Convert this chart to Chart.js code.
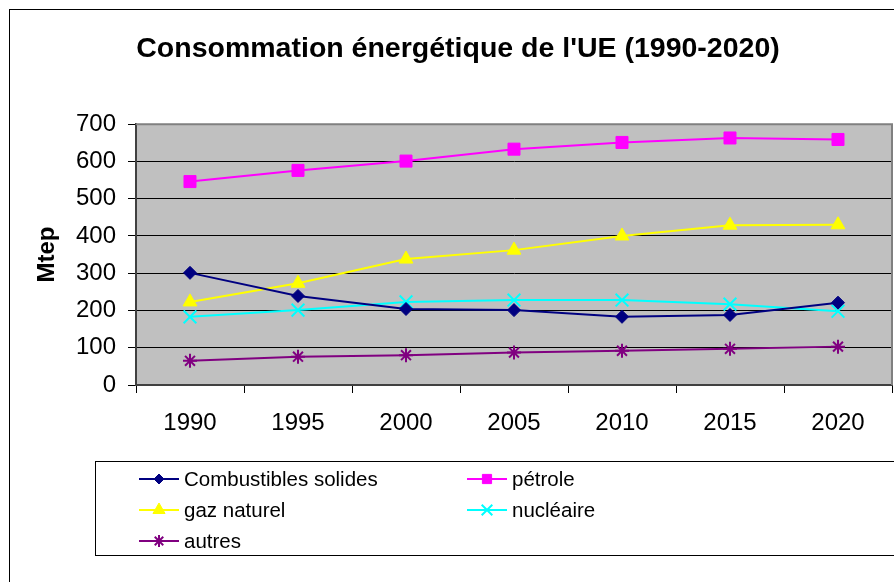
<!DOCTYPE html>
<html>
<head>
<meta charset="utf-8">
<title>Consommation énergétique de l'UE (1990-2020)</title>
<script src="https://cdn.jsdelivr.net/npm/chart.js@4.4.1/dist/chart.umd.min.js"></script>
<style>
html, body { margin: 0; padding: 0; background: #fff; }
canvas { display: block; }
</style>
</head>
<body>
<canvas id="chart" width="894" height="582"></canvas>
<script>
var years = ["1990", "1995", "2000", "2005", "2010", "2015", "2020"];
var combustibles = [301, 239, 204, 201, 183, 188, 221];
var petrole = [546, 576, 601, 633, 651, 663, 659];
var gaz = [223, 273, 338, 362, 400, 429, 430];
var nucleaire = [183, 201, 223, 228, 228, 217, 198];
var autres = [65, 76, 80, 87, 92, 97, 103];
var yTicks = [0, 100, 200, 300, 400, 500, 600, 700];

var FONT = '"Liberation Sans", Arial, sans-serif';

function series(label, data, color, style, radius, legendRadius, filled) {
    return {
        label: label,
        data: data,
        borderColor: color,
        borderWidth: 2,
        tension: 0,
        pointStyle: style,
        pointRadius: radius,
        pointHoverRadius: radius,
        pointBackgroundColor: color,
        pointBorderColor: color,
        pointBorderWidth: filled ? 1 : 2,
        legendRadius: legendRadius,
        clip: false
    };
}

// grey plot area, outer chart frame
var plotFrame = {
    id: "plotFrame",
    beforeDraw: function(chart) {
        var ctx = chart.ctx, a = chart.chartArea;
        ctx.save();
        ctx.fillStyle = "#fff";
        ctx.fillRect(0, 0, chart.width, chart.height);
        ctx.strokeStyle = "#000";
        ctx.lineWidth = 1;
        ctx.strokeRect(9.5, 9.5, 1000, 1000);
        ctx.fillStyle = "#c0c0c0";
        ctx.fillRect(a.left, a.top, a.right - a.left, a.bottom - a.top);
        ctx.restore();
    },
    beforeDatasetsDraw: function(chart) {
        var ctx = chart.ctx, a = chart.chartArea;
        ctx.save();
        ctx.strokeStyle = "#808080";
        ctx.lineWidth = 2;
        ctx.beginPath();
        ctx.moveTo(a.left, a.top);
        ctx.lineTo(a.right, a.top);
        ctx.lineTo(a.right, a.bottom);
        ctx.stroke();
        ctx.restore();
    }
};

// Excel-like legend box: two columns, line + marker
var legendBox = {
    id: "legendBox",
    afterDraw: function(chart) {
        var ctx = chart.ctx;
        ctx.save();
        ctx.strokeStyle = "#000";
        ctx.lineWidth = 1;
        ctx.strokeRect(95.5, 461.5, 1000, 94);
        chart.data.datasets.forEach(function(ds, i) {
            var x = (i % 2) ? 467 : 139;
            var y = 479 + Math.floor(i / 2) * 31;
            ctx.strokeStyle = ds.borderColor;
            ctx.lineWidth = 2;
            ctx.beginPath();
            ctx.moveTo(x, y);
            ctx.lineTo(x + 40, y);
            ctx.stroke();
            ctx.fillStyle = ds.pointBackgroundColor;
            ctx.strokeStyle = ds.pointBorderColor;
            ctx.lineWidth = ds.pointBorderWidth;
            Chart.helpers.drawPoint(ctx, {
                pointStyle: ds.pointStyle,
                radius: ds.legendRadius,
                borderWidth: ds.pointBorderWidth,
                rotation: 0
            }, x + 20, y);
            ctx.fillStyle = "#000";
            ctx.font = "20.5px " + FONT;
            ctx.textBaseline = "middle";
            ctx.textAlign = "left";
            ctx.fillText(ds.label, x + 45, y + 1);
        });
        ctx.restore();
    }
};

new Chart(document.getElementById("chart"), {
    type: "line",
    data: {
        labels: years,
        datasets: [
            series("Combustibles solides", combustibles, "#000080", "rectRot", 6.5, 5, true),
            series("pétrole", petrole, "#ff00ff", "rect", 8.5, 6.5, true),
            series("gaz naturel", gaz, "#ffff00", "triangle", 8, 7, true),
            series("nucléaire", nucleaire, "#00ffff", "crossRot", 9, 7.5, false),
            series("autres", autres, "#800080", "star", 7, 6, false)
        ]
    },
    options: {
        responsive: false,
        animation: false,
        events: [],
        // points would otherwise push the plot area in from the right edge
        layout: { autoPadding: false, padding: { left: 24, right: 2, top: 0, bottom: 142 } },
        plugins: {
            legend: { display: false },
            tooltip: { enabled: false },
            title: {
                display: true,
                text: "Consommation énergétique de l'UE (1990-2020)",
                color: "#000",
                font: { family: FONT, size: 28.5, weight: "bold" },
                padding: { top: 32, bottom: 58 }
            }
        },
        scales: {
            x: {
                offset: true,
                grid: { offset: true, drawOnChartArea: false, drawTicks: true, tickLength: 8, color: "#000", lineWidth: 1 },
                border: { display: true, color: "#404040", width: 2 },
                ticks: { color: "#000", font: { family: FONT, size: 24 }, padding: 16, maxRotation: 0, autoSkip: false },
                afterFit: function(s) { s.height = 55; }
            },
            y: {
                min: 0,
                max: 700,
                afterBuildTicks: function(s) { s.ticks = yTicks.map(function(v) { return { value: v }; }); },
                grid: { color: "#000", lineWidth: 1, tickLength: 8 },
                border: { display: true, color: "#404040", width: 2 },
                ticks: { color: "#000", font: { family: FONT, size: 24 }, padding: 12 },
                title: {
                    display: true,
                    text: "Mtep",
                    color: "#000",
                    font: { family: FONT, size: 24, weight: "bold" },
                    padding: { top: 9, bottom: 0 }
                },
                afterFit: function(s) { s.width = 112; }
            }
        }
    },
    plugins: [plotFrame, legendBox]
});
</script>
</body>
</html>
